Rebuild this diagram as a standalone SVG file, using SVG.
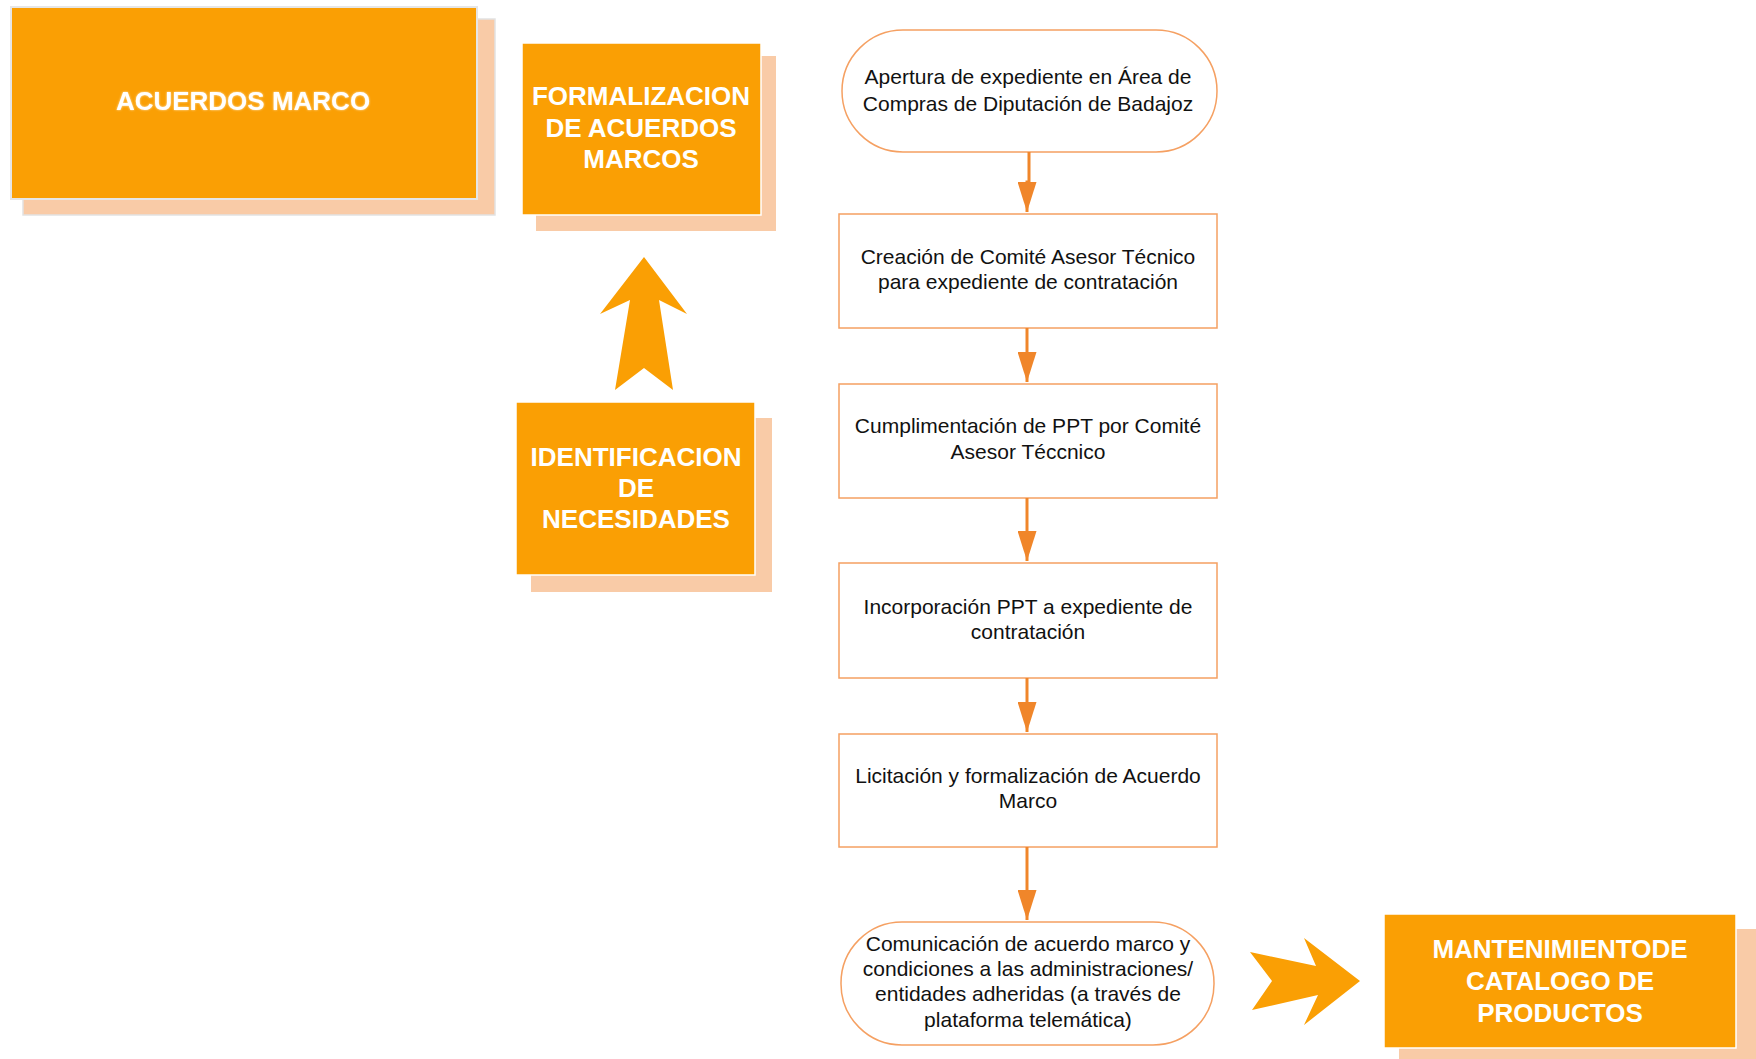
<svg xmlns="http://www.w3.org/2000/svg" width="1756" height="1059" viewBox="0 0 1756 1059">
<style>
.big{fill:#FA9F04;stroke:#ffffff;stroke-width:1.5}
.shadow{fill:#F9CBA7}
.bigtxt{font-family:"Liberation Sans",Arial,sans-serif;font-weight:bold;font-size:26px;fill:#ffffff;text-anchor:middle}
.step{fill:#ffffff;stroke:#F5A062;stroke-width:1.5}
.txt{font-family:"Liberation Sans",Arial,sans-serif;font-size:21px;fill:#111111;text-anchor:middle}
.conn{stroke:#F0862A;stroke-width:3;fill:none}
.blk{fill:#FA9F04}
</style>
<defs>
<marker id="ah" markerWidth="30" markerHeight="19" refX="30" refY="9.5" orient="auto" markerUnits="userSpaceOnUse" viewBox="0 0 30 19">
<path d="M0,0 L30,9.5 L0,19 Z" fill="#F0862A"/>
</marker>
<filter id="glow" x="-10%" y="-30%" width="120%" height="160%">
<feGaussianBlur in="SourceAlpha" stdDeviation="1.2" result="b"/>
<feFlood flood-color="#ffffff" flood-opacity="0.7"/>
<feComposite in2="b" operator="in" result="g"/>
<feMerge><feMergeNode in="g"/><feMergeNode in="SourceGraphic"/></feMerge>
</filter>
</defs>

<g id="acuerdos-marco">
<rect x="23" y="19" width="472" height="196" class="shadow" stroke="#e2e2e2" stroke-width="1.5"/>
<rect x="11" y="7" width="466" height="192" fill="#FA9F04" stroke="#e6e6e6" stroke-width="2"/>
<text x="243" y="110" class="bigtxt" filter="url(#glow)">ACUERDOS MARCO</text>
</g>

<g id="formalizacion">
<rect x="536" y="56" width="240" height="175" class="shadow"/>
<rect x="522" y="43" width="239" height="172" class="big"/>
<text class="bigtxt"><tspan x="641" y="105">FORMALIZACION</tspan><tspan x="641" y="137">DE ACUERDOS</tspan><tspan x="641" y="168">MARCOS</tspan></text>
</g>

<g id="identificacion">
<rect x="531" y="418" width="241" height="174" class="shadow"/>
<rect x="516" y="402" width="239" height="173" class="big"/>
<text class="bigtxt"><tspan x="636" y="466">IDENTIFICACION</tspan><tspan x="636" y="497">DE</tspan><tspan x="636" y="528">NECESIDADES</tspan></text>
</g>

<g id="up-arrow">
<polygon class="blk" points="644,257 687,314 659,300 673,390 644,368 615,390 630,300 600,314"/>
</g>

<g id="mantenimiento">
<rect x="1399" y="929" width="370" height="140" class="shadow"/>
<rect x="1384" y="914" width="352" height="134" class="big"/>
<text class="bigtxt"><tspan x="1560" y="958">MANTENIMIENTODE</tspan><tspan x="1560" y="990">CATALOGO DE</tspan><tspan x="1560" y="1022">PRODUCTOS</tspan></text>
</g>

<g id="right-arrow">
<polygon class="blk" points="1250,952 1316,966 1304,938 1360,981 1304,1025 1318,995 1252,1010 1272,981"/>
</g>

<g id="step1">
<rect x="842" y="30" width="375" height="122" rx="61" ry="61" class="step"/>
<text class="txt"><tspan x="1028" y="84">Apertura de expediente en Área de</tspan><tspan x="1028" y="111">Compras de Diputación de Badajoz</tspan></text>
</g>

<g id="step2">
<rect x="839" y="214" width="378" height="114" class="step"/>
<text class="txt"><tspan x="1028" y="264">Creación de Comité Asesor Técnico</tspan><tspan x="1028" y="289">para expediente de contratación</tspan></text>
</g>

<g id="step3">
<rect x="839" y="384" width="378" height="114" class="step"/>
<text class="txt"><tspan x="1028" y="433">Cumplimentación de PPT por Comité</tspan><tspan x="1028" y="459">Asesor Téccnico</tspan></text>
</g>

<g id="step4">
<rect x="839" y="563" width="378" height="115" class="step"/>
<text class="txt"><tspan x="1028" y="614">Incorporación PPT a expediente de</tspan><tspan x="1028" y="639">contratación</tspan></text>
</g>

<g id="step5">
<rect x="839" y="734" width="378" height="113" class="step"/>
<text class="txt"><tspan x="1028" y="783">Licitación y formalización de Acuerdo</tspan><tspan x="1028" y="808">Marco</tspan></text>
</g>

<g id="step6">
<rect x="841" y="922" width="373" height="123" rx="61" ry="61" class="step"/>
<text class="txt"><tspan x="1028" y="951">Comunicación de acuerdo marco y</tspan><tspan x="1028" y="976">condiciones a las administraciones/</tspan><tspan x="1028" y="1001">entidades adheridas (a través de</tspan><tspan x="1028" y="1027">plataforma telemática)</tspan></text>
</g>

<g id="connectors">
<path class="conn" d="M1029,152 L1029,182 L1027,182 L1027,212" marker-end="url(#ah)"/>
<path class="conn" d="M1027,328 L1027,382" marker-end="url(#ah)"/>
<path class="conn" d="M1027,498 L1027,561" marker-end="url(#ah)"/>
<path class="conn" d="M1027,678 L1027,732" marker-end="url(#ah)"/>
<path class="conn" d="M1027,847 L1027,920" marker-end="url(#ah)"/>
</g>
</svg>
